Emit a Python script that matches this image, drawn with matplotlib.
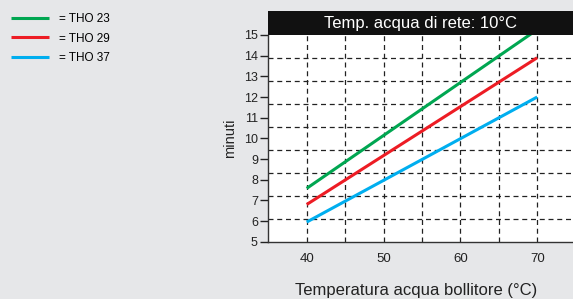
import numpy as np
import matplotlib
matplotlib.use("Agg")
import matplotlib.pyplot as plt
from matplotlib.patches import Rectangle

plt.rcParams['font.family'] = ['Liberation Sans', 'DejaVu Sans']

temp = [40, 70]
tho23 = [7.58, 15.26]
tho29 = [6.8, 13.9]
tho37 = [5.95, 12.0]
labels = ['= THO 23', '= THO 29', '= THO 37']
colors = ['#00a651', '#ed1c24', '#00aeef']
title = 'Temp. acqua di rete: 10°C'

fig = plt.figure(figsize=(5.73, 2.99), dpi=100)
fig.patch.set_facecolor('#e6e7e9')
ax = fig.add_axes([268.3/573, 1-241.7/299, (575.6-268.3)/573, (241.7-35)/299])
ax.set_facecolor('white')

ax.set_xlim(35, 75)
ax.set_ylim(5, 15)

# grid: dashed, horizontal lines split the range in 9 parts
for yv in np.linspace(5, 15, 10)[1:-1]:
    ax.axhline(yv, color='#222222', lw=0.9, ls=(0, (4, 3)), zorder=1)
for xv in np.arange(40, 75, 5):
    ax.axvline(xv, color='#222222', lw=0.9, ls=(0, (4, 3)), zorder=1)

lines = []
for ys, c, lab in zip([tho23, tho29, tho37], colors, labels):
    l, = ax.plot(temp, ys, color=c, lw=2.2, label=lab, zorder=3, solid_capstyle='butt')
    lines.append(l)

ax.set_xticks([40, 50, 60, 70])
ax.set_yticks(range(5, 16))
ax.tick_params(axis='x', length=0, pad=8, labelsize=9.5, colors='#222222')
ax.tick_params(axis='y', length=6, width=1, pad=1.5, labelsize=9, colors='#222222')

for s in ['top', 'right']:
    ax.spines[s].set_visible(False)
for s in ['left', 'bottom']:
    ax.spines[s].set_color('#333333')
    ax.spines[s].set_linewidth(1)

# black title band above the plot
ax.add_patch(Rectangle((0, 1), 1.02, 0.116, transform=ax.transAxes,
                       facecolor='#111111', edgecolor='none', clip_on=False))
ax.text(0.4955, 1.058, title, transform=ax.transAxes, ha='center', va='center',
        color='white', fontsize=12)

fig.text(230/573, 1-138/299, 'minuti', rotation=90, ha='center', va='center',
         fontsize=10.5, color='#222222')
fig.text(416.5/573, 1-290/299, 'Temperatura acqua bollitore (°C)', ha='center',
         va='center', fontsize=12, color='#222222')

fig.legend(handles=lines, loc='upper left', bbox_to_anchor=(6/573, 1-8/299),
           frameon=False, fontsize=8.5, handlelength=3.2, handletextpad=0.9,
           labelspacing=0.66, borderaxespad=0)

fig.savefig('out.png', dpi=100, facecolor=fig.get_facecolor())
